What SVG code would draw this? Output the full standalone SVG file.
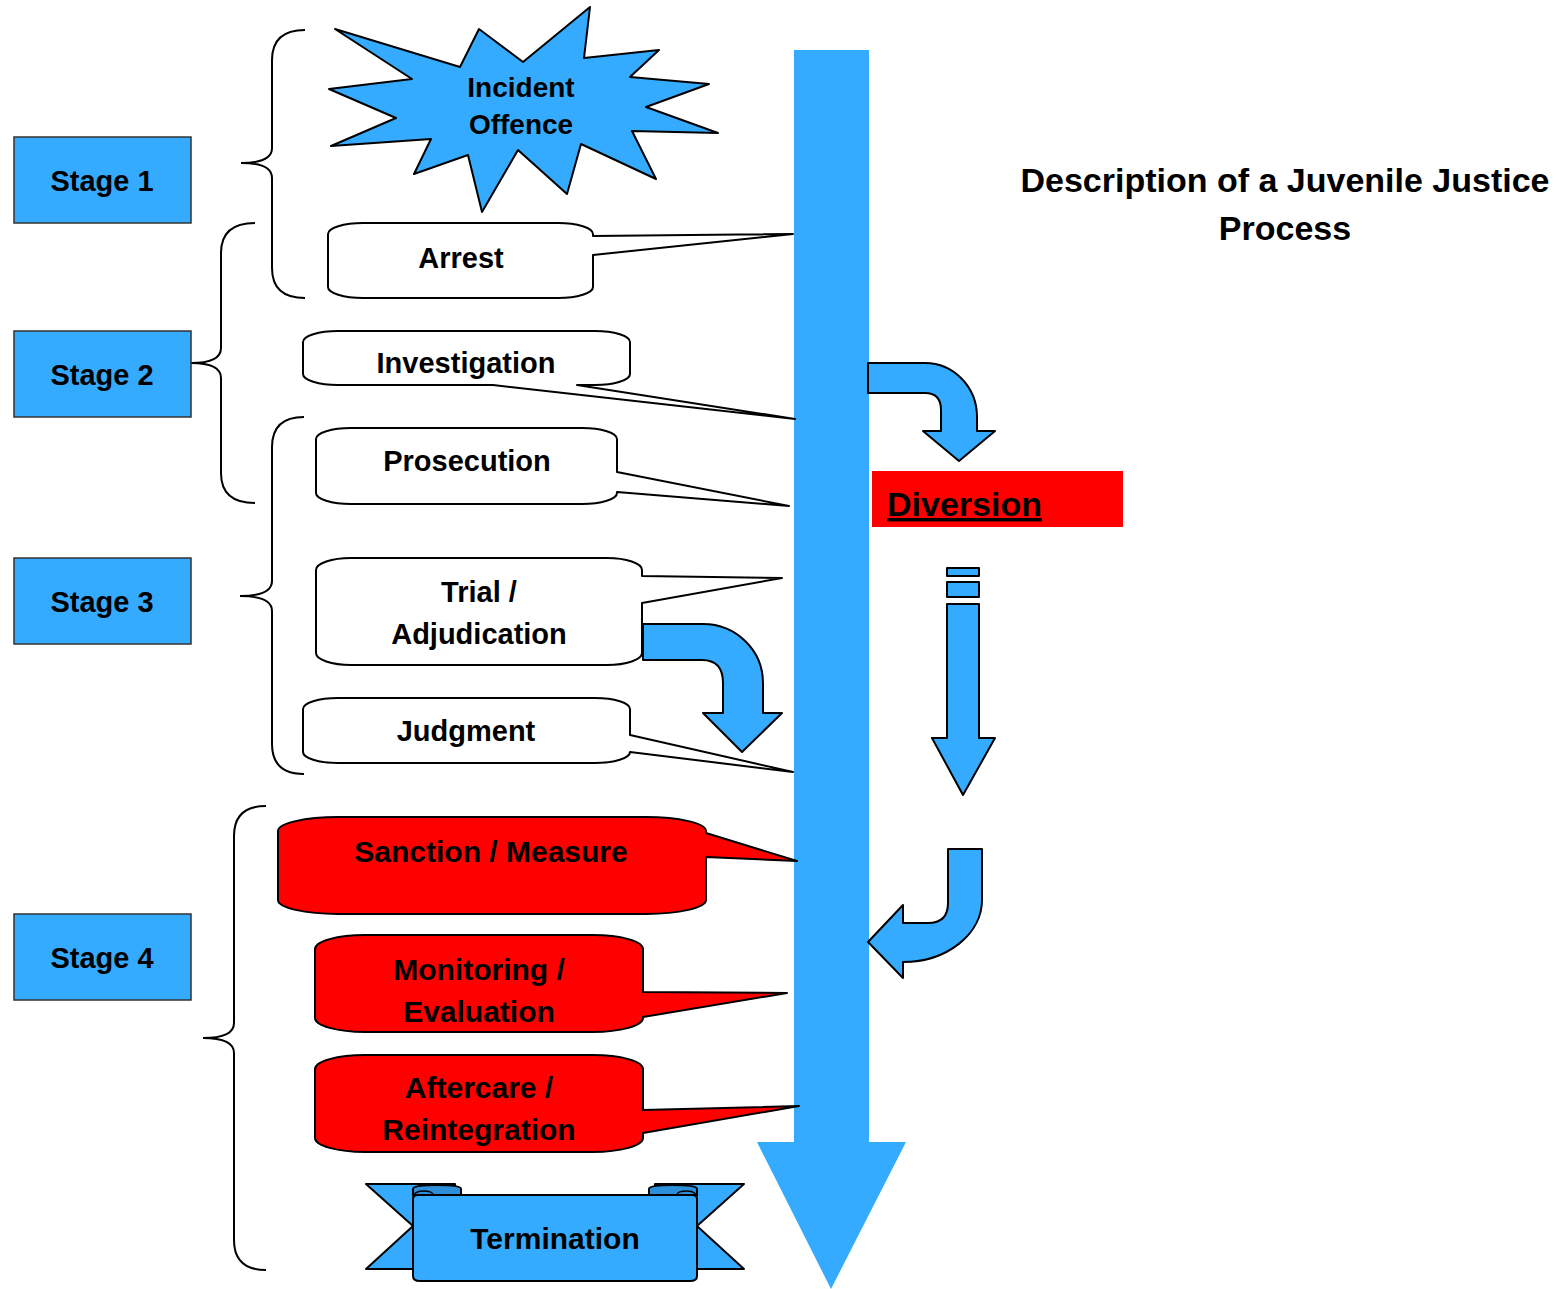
<svg xmlns="http://www.w3.org/2000/svg" width="1558" height="1289" viewBox="0 0 1558 1289">
<style>
.t{font-family:"Liberation Sans",Arial,sans-serif;font-weight:bold;fill:#000;text-anchor:middle}
.stage{fill:#35ABFF;stroke:#333;stroke-width:1.5}
.blue{fill:#35ABFF;stroke:#000;stroke-width:2;stroke-linejoin:round}
.white{fill:#fff;stroke:#000;stroke-width:2;stroke-linejoin:round}
.red{fill:#FF0000;stroke:#000;stroke-width:2;stroke-linejoin:round}
.brace{fill:none;stroke:#000;stroke-width:2}
</style>
<rect width="1558" height="1289" fill="#fff"/>

<g id="connectors">
  <polygon id="main-arrow" points="794,50 869,50 869,1142 906,1142 831,1289 757,1142 794,1142" fill="#35ABFF"/>
  <path id="to-diversion" class="blue" d="M868,363 L925,363 A52,54 0 0 1 977,417 L977,431 L995,431 L959,461 L923,431 L941,431 L941,410 Q941,393 925,393 L868,393 Z"/>
  <g id="diversion-down">
    <rect class="blue" x="947" y="568" width="32" height="8"/>
    <rect class="blue" x="947" y="582" width="32" height="15"/>
    <path class="blue" d="M947,604 L979,604 L979,738 L995,738 L963,795 L932,738 L947,738 Z"/>
  </g>
  <path id="return-arrow" class="blue" d="M948,849 L982,849 L982,900 A79,62 0 0 1 903,962 L903,978 L868,942 L903,905 L903,923 L928,923 Q948,923 948,903 Z"/>
</g>

<g id="braces">
  <path class="brace" d="M305,30 Q272,30 272,60 L272,148 Q272,163 241,163 Q272,163 272,178 L272,268 Q272,298 305,298"/>
  <path class="brace" d="M255,223 Q221,223 221,253 L221,348 Q221,363 191,363 Q221,363 221,378 L221,473 Q221,503 255,503"/>
  <path class="brace" d="M304,417 Q272,417 272,447 L272,581 Q272,596 240,596 Q272,596 272,611 L272,744 Q272,774 304,774"/>
  <path class="brace" d="M266,806 Q234,806 234,836 L234,1023 Q234,1038 203,1038 Q234,1038 234,1053 L234,1240 Q234,1270 266,1270"/>
</g>

<g id="stage1"><rect class="stage" x="14" y="137" width="177" height="86"/><text class="t" x="102" y="191" font-size="29">Stage 1</text></g>
<g id="stage2"><rect class="stage" x="14" y="331" width="177" height="86"/><text class="t" x="102" y="385" font-size="29">Stage 2</text></g>
<g id="stage3"><rect class="stage" x="14" y="558" width="177" height="86"/><text class="t" x="102" y="612" font-size="29">Stage 3</text></g>
<g id="stage4"><rect class="stage" x="14" y="914" width="177" height="86"/><text class="t" x="102" y="968" font-size="29">Stage 4</text></g>

<g id="incident">
  <polygon class="blue" points="335,29 412,79 329,89 396,118 331,146 431,139 414,174 468,155 482,212 518,150 567,194 581,144 656,179 632,131 718,133 646,107 709,84 630,77 659,50 584,58 590,7 523,62 479,29 460,67"/>
  <text class="t" x="521" y="97" font-size="28">Incident</text>
  <text class="t" x="521" y="134" font-size="28">Offence</text>
</g>

<g id="arrest">
  <path class="white" d="M363,223 H558 A35,11 0 0 1 593,234 V236 L793,234 L593,255 V287 A35,11 0 0 1 558,298 H363 A35,11 0 0 1 328,287 V234 A35,11 0 0 1 363,223 Z"/>
  <text class="t" x="461" y="268" font-size="29">Arrest</text>
</g>

<g id="investigation">
  <path class="white" d="M338,331 H595 A35,11 0 0 1 630,342 V374 A35,11 0 0 1 595,385 H577 L795,419 L493,385 H338 A35,11 0 0 1 303,374 V342 A35,11 0 0 1 338,331 Z"/>
  <text class="t" x="466" y="373" font-size="29">Investigation</text>
</g>

<g id="prosecution">
  <path class="white" d="M351,428 H582 A35,11 0 0 1 617,439 V472 L789,506 L617,492 V493 A35,11 0 0 1 582,504 H351 A35,11 0 0 1 316,493 V439 A35,11 0 0 1 351,428 Z"/>
  <text class="t" x="467" y="471" font-size="29">Prosecution</text>
</g>

<g id="trial">
  <path class="white" d="M351,558 H607 A35,12 0 0 1 642,570 V576 L782,578 L642,603 V653 A35,12 0 0 1 607,665 H351 A35,12 0 0 1 316,653 V570 A35,12 0 0 1 351,558 Z"/>
  <text class="t" x="479" y="602" font-size="29">Trial /</text>
  <text class="t" x="479" y="644" font-size="29">Adjudication</text>
</g>

<g id="judgment">
  <path class="white" d="M338,698 H595 A35,11 0 0 1 630,709 V735 L793,772 L630,752 A35,11 0 0 1 595,763 H338 A35,11 0 0 1 303,752 V709 A35,11 0 0 1 338,698 Z"/>
  <text class="t" x="466" y="741" font-size="29">Judgment</text>
</g>

<path id="trial-judgment-arrow" class="blue" d="M643,624 L703,624 A60,59 0 0 1 763,683 L763,713 L782,713 L742,752 L703,713 L723,713 L723,683 Q723,660 702,660 L643,660 Z"/>

<g id="sanction">
  <path class="red" d="M338,817 H646 A60,14 0 0 1 706,831 V833 L797,861 L706,857 V900 A60,14 0 0 1 646,914 H338 A60,14 0 0 1 278,900 V831 A60,14 0 0 1 338,817 Z"/>
  <text class="t" x="491" y="862" font-size="30">Sanction / Measure</text>
</g>

<g id="monitoring">
  <path class="red" d="M365,935 H593 A50,14 0 0 1 643,949 V992 L787,993 L643,1017 V1018 A50,14 0 0 1 593,1032 H365 A50,14 0 0 1 315,1018 V949 A50,14 0 0 1 365,935 Z"/>
  <text class="t" x="479" y="980" font-size="30">Monitoring /</text>
  <text class="t" x="479" y="1022" font-size="30">Evaluation</text>
</g>

<g id="aftercare">
  <path class="red" d="M365,1055 H593 A50,14 0 0 1 643,1069 V1110 L799,1106 L643,1133 V1138 A50,14 0 0 1 593,1152 H365 A50,14 0 0 1 315,1138 V1069 A50,14 0 0 1 365,1055 Z"/>
  <text class="t" x="479" y="1098" font-size="30">Aftercare /</text>
  <text class="t" x="479" y="1140" font-size="30">Reintegration</text>
</g>

<g id="termination">
  <path class="blue" d="M366,1184 L455,1184 L455,1269 L366,1269 L413,1226 Z"/>
  <path class="blue" d="M744,1184 L655,1184 L655,1269 L744,1269 L697,1226 Z"/>
  <path fill="#2B8FD9" stroke="#000" stroke-width="2" d="M413,1195 L413,1189 Q413,1185 437,1185 Q461,1185 461,1189 L461,1195 Z"/>
  <path fill="#2B8FD9" stroke="#000" stroke-width="2" d="M649,1195 L649,1189 Q649,1185 673,1185 Q697,1185 697,1189 L697,1195 Z"/>
  <path class="blue" d="M418,1195 H692 Q697,1195 697,1199 V1276 Q697,1281 690,1281 H420 Q413,1281 413,1276 V1199 Q413,1195 418,1195 Z"/>
  <path fill="none" stroke="#000" stroke-width="1.5" d="M413,1199 Q413,1191 423,1191 Q433,1191 433,1195 M697,1199 Q697,1191 687,1191 Q677,1191 677,1195"/>
  <text class="t" x="555" y="1249" font-size="30">Termination</text>
</g>

<g id="diversion">
  <rect x="872" y="471" width="251" height="56" fill="#FF0000"/>
  <text class="t" x="887" y="516" font-size="34" style="text-anchor:start" text-decoration="underline">Diversion</text>
</g>

<g id="title">
  <text class="t" x="1285" y="192" font-size="34">Description of a Juvenile Justice</text>
  <text class="t" x="1285" y="240" font-size="34">Process</text>
</g>
</svg>
